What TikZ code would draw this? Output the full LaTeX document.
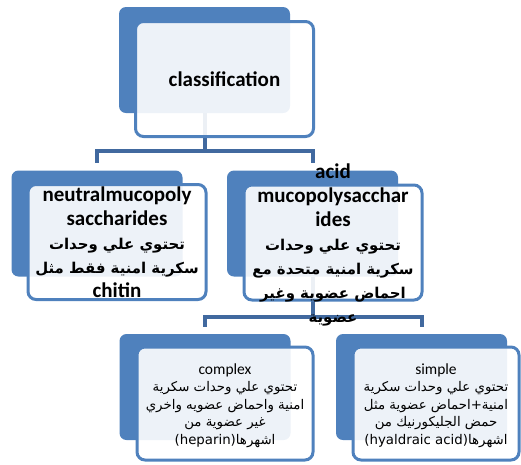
\documentclass[tikz,border=0pt]{standalone}
\usepackage{fontspec}
\setmainfont{Carlito}
\newfontfamily\arabicfont[Script=Arabic,Scale=0.71]{DejaVu Sans}
\newfontfamily\arabicsmall[Script=Arabic,Scale=0.86]{DejaVu Sans}
\TeXXeTstate=1
\usetikzlibrary{positioning}
\definecolor{boxblue}{HTML}{4F81BD}
\definecolor{linkblue}{HTML}{41699F}
\newcommand{\arline}[1]{{\arabicfont\beginR #1\endR}}
\newcommand{\arsmall}[1]{{\arabicsmall\beginR #1\endR}}
\tikzset{
  backbox/.style={fill=boxblue, rounded corners=7pt, minimum width=171pt, minimum height=106pt, inner sep=0pt},
  frontbox/.style={draw=boxblue, line width=3pt, fill=white, fill opacity=0.9, rounded corners=8pt, minimum width=178pt, minimum height=115pt, inner sep=0pt},
  link/.style={draw=linkblue, line width=4pt},
  bigtxt/.style={align=center, font=\bfseries\fontsize{21}{24}\selectfont, inner sep=0pt},
  smalltxt/.style={align=center, font=\fontsize{15.5}{17.5}\selectfont, inner sep=0pt},
}
\begin{document}
\begin{tikzpicture}[x=1pt,y=-1pt]
	\useasboundingbox (0,0) rectangle (521,464);
	% back boxes
	\node[backbox] (cls) at (204.5,60) {};
	\node[backbox] (neu) at (97,223.5) {};
	\node[backbox] (acd) at (312.5,223.5) {};
	\node[backbox] (cpx) at (205,387) {};
	\node[backbox] (smp) at (421.5,387) {};
	% connectors
	\draw[link] (cls.south) -- ++(0,38) coordinate (j1);
	\draw[link] (j1) -| ([yshift=7pt]neu.north);
	\draw[link] (j1) -| ([yshift=7pt]acd.north);
	\draw[link] (acd.south) -- ++(0,40) coordinate (j2);
	\draw[link] (j2) -| ([yshift=7pt]cpx.north);
	\draw[link] (j2) -| ([yshift=7pt]smp.north);
	% front boxes
	\node[frontbox] (clsF) at ([shift={(20,19)}]cls.center) {};
	\node[frontbox] (neuF) at ([shift={(20,18.5)}]neu.center) {};
	\node[frontbox] (acdF) at ([shift={(20.5,19)}]acd.center) {};
	\node[frontbox, minimum height=113pt, minimum width=176pt] (cpxF) at ([shift={(20,16.5)}]cpx.center) {};
	\node[frontbox, minimum height=113pt, minimum width=166pt] (smpF) at ([shift={(14.5,16.5)}]smp.center) {};
	% texts
	\node[bigtxt] (clsT) at (clsF) {classification};
	\node[bigtxt] (neuT) at (neuF) {neutralmucopoly\\saccharides\\\arline{تحتوي علي وحدات}\\\arline{سكرية امنية فقط مثل}\\chitin};
	\node[bigtxt] (acdT) at ([yshift=-2pt]acdF) {acid\\mucopolysacchar\\ides\\\arline{تحتوي علي وحدات}\\\arline{سكرية امنية متحدة مع}\\\arline{احماض عضوية وغير}\\\arline{عضوية}};
	\node[smalltxt] (cpxT) at ([yshift=-2pt]cpxF) {complex\\\arsmall{تحتوي علي وحدات سكرية}\\\arsmall{امنية واحماض عضويه واخري}\\\arsmall{غير عضوية من}\\\arsmall{اشهرها\beginL(heparin)\endL}};
	\node[smalltxt] (smpT) at ([yshift=-2pt]smpF) {simple\\\arsmall{تحتوي علي وحدات سكرية}\\\arsmall{امنية+احماض عضوية مثل}\\\arsmall{حمض الجليكورنيك من}\\\arsmall{اشهرها\beginL(hyaldraic acid)\endL}};
\end{tikzpicture}
\end{document}
